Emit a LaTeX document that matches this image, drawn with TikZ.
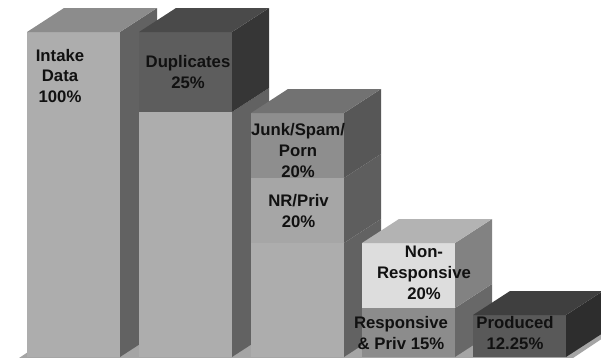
\documentclass[tikz,border=0pt]{standalone}
\usepackage{fontspec}
\setmainfont{Liberation Sans}

% face colours of the stacked 3-D bars
\definecolor{lightfront}{HTML}{ADADAD}
\definecolor{lightside}{HTML}{626262}
\definecolor{intaketop}{HTML}{8C8C8C}
\definecolor{dupfront}{HTML}{5D5D5D}
\definecolor{dupside}{HTML}{363636}
\definecolor{duptop}{HTML}{4A4A4A}
\definecolor{junkfront}{HTML}{8E8E8E}
\definecolor{junkside}{HTML}{575757}
\definecolor{junktop}{HTML}{727272}
\definecolor{nrfront}{HTML}{A6A6A6}
\definecolor{nrside}{HTML}{5E5E5E}
\definecolor{nonrespfront}{HTML}{DDDDDD}
\definecolor{nonrespside}{HTML}{828282}
\definecolor{nonresptop}{HTML}{B3B3B3}
\definecolor{respfront}{HTML}{8C8C8C}
\definecolor{respside}{HTML}{686868}
\definecolor{prodfront}{HTML}{595959}
\definecolor{prodside}{HTML}{2D2D2D}
\definecolor{prodtop}{HTML}{3F3F3F}
\definecolor{floorgrey}{HTML}{A5A5A5}
\definecolor{labelink}{HTML}{111111}

% one stacked segment: left x, top y, bottom y, front colour, side colour
\newcommand\barsegment[5]{%
  \fill[#4] (#1,#2) rectangle ({#1+93},#3);
  \fill[#5] ({#1+93},#2) -- ({#1+130},{#2-24}) -- ({#1+130},{#3-24}) -- ({#1+93},#3) -- cycle;}
% top face of a bar: left x, top y, colour
\newcommand\bartop[3]{%
  \fill[#3] (#1,#2) -- ({#1+93},#2) -- ({#1+130},{#2-24}) -- ({#1+37},{#2-24}) -- cycle;}

\begin{document}
\begin{tikzpicture}[x=1bp,y=-1bp,
  barlabel/.style={align=center, inner sep=0pt, text=labelink,
    font=\fontsize{16.8}{21}\selectfont\bfseries}]
\useasboundingbox (0,0) rectangle (601,357);
\clip (0,0) rectangle (601,357);

% floor slab under the bars
\fill[floorgrey] (13,362) -- (567,362) -- (612,332) -- (58,332) -- cycle;

% bar 1: intake
\barsegment{27}{32}{357}{lightfront}{lightside}
\bartop{27}{32}{intaketop}

% bar 2: duplicates removed
\barsegment{139}{112}{357}{lightfront}{lightside}
\barsegment{139}{32}{112}{dupfront}{dupside}
\bartop{139}{32}{duptop}

% bar 3: junk and NR/privileged
\barsegment{251}{243}{357}{lightfront}{lightside}
\barsegment{251}{178}{243}{nrfront}{nrside}
\barsegment{251}{113}{178}{junkfront}{junkside}
\bartop{251}{113}{junktop}

% bar 4: non-responsive over responsive
\barsegment{362}{308}{357}{respfront}{respside}
\barsegment{362}{243}{308}{nonrespfront}{nonrespside}
\bartop{362}{243}{nonresptop}

% bar 5: produced
\barsegment{473}{315}{357}{prodfront}{prodside}
\bartop{473}{315}{prodtop}

% labels
\node[barlabel] (intake) at (60,77.8) {\strut Intake\\\strut Data\\\strut 100\%};
\node[barlabel] (dup) at (188,73.8) {\strut Duplicates\\\strut 25\%};
\node[barlabel] (junk) at (298,152.5) {\strut Junk/Spam/\\\strut Porn\\\strut 20\%};
\node[barlabel] (nrpriv) at (298.5,212.8) {\strut NR/Priv\\\strut 20\%};
\node[barlabel] (nonresp) at (424,274.5) {\strut Non-\\\strut Responsive\\\strut 20\%};
\node[barlabel] (resp) at (401,334.8) {\strut Responsive\\\strut \& Priv 15\%};
\node[barlabel] (prod) at (515,334.8) {\strut Produced\\\strut 12.25\%};
\end{tikzpicture}
\end{document}
